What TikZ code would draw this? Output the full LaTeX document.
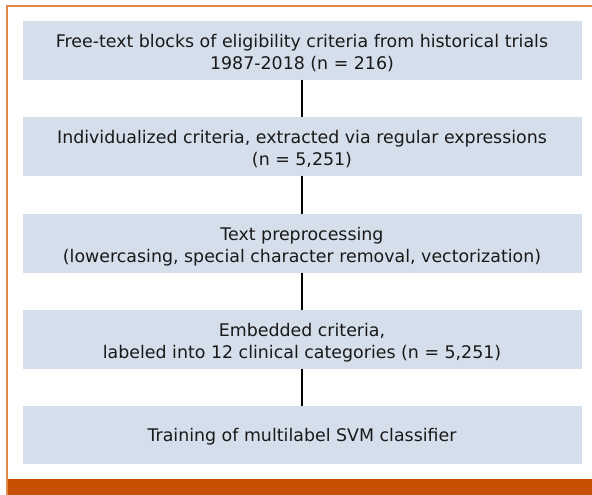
\documentclass[tikz,border=0pt]{standalone}
\usepackage{fontspec}
\setmainfont{DejaVu Sans}
\definecolor{boxfill}{HTML}{D5DFEC}
\definecolor{frameline}{HTML}{E0874A}
\definecolor{barcol}{HTML}{C45000}
\begin{document}
\begin{tikzpicture}[x=1pt,y=-1pt,
  stepbox/.style={fill=boxfill, draw=none, minimum width=559pt, minimum height=58.5pt, inner sep=0pt},
  steptext/.style={align=center, inner sep=0pt, font=\fontsize{17.4}{22}\selectfont, text=black!90},
  link/.style={draw=black, line width=1.7pt}]
\useasboundingbox (0,0) rectangle (592,495);
\fill[white] (0,0) rectangle (592,495);
% frame
\draw[frameline, line width=2pt] (7,495) -- (7,6) -- (592,6);
\fill[barcol] (8,479) rectangle (592,495);
% boxes
\node[stepbox] (b1) at (302,50.5) {};
\node[stepbox] (b2) at (302,146.5) {};
\node[stepbox] (b3) at (302,243.5) {};
\node[stepbox] (b4) at (302,339.5) {};
\node[stepbox] (b5) at (302,435) {};
\node[steptext] (t1) at ([yshift=-3pt]b1.center) {Free-text blocks of eligibility criteria from historical trials\\1987-2018 (n = 216)};
\node[steptext] (t2) at ([yshift=-3pt]b2.center) {Individualized criteria, extracted via regular expressions\\(n = 5,251)};
\node[steptext] (t3) at ([yshift=-3pt]b3.center) {Text preprocessing\\(lowercasing, special character removal, vectorization)};
\node[steptext] (t4) at ([yshift=-3pt]b4.center) {Embedded criteria,\\labeled into 12 clinical categories (n = 5,251)};
\node[steptext] (t5) at ([yshift=-1.5pt]b5.center) {Training of multilabel SVM classifier};
\draw[link] (b1.south) -- (b2.north);
\draw[link] (b2.south) -- (b3.north);
\draw[link] (b3.south) -- (b4.north);
\draw[link] (b4.south) -- (b5.north);
\end{tikzpicture}
\end{document}
